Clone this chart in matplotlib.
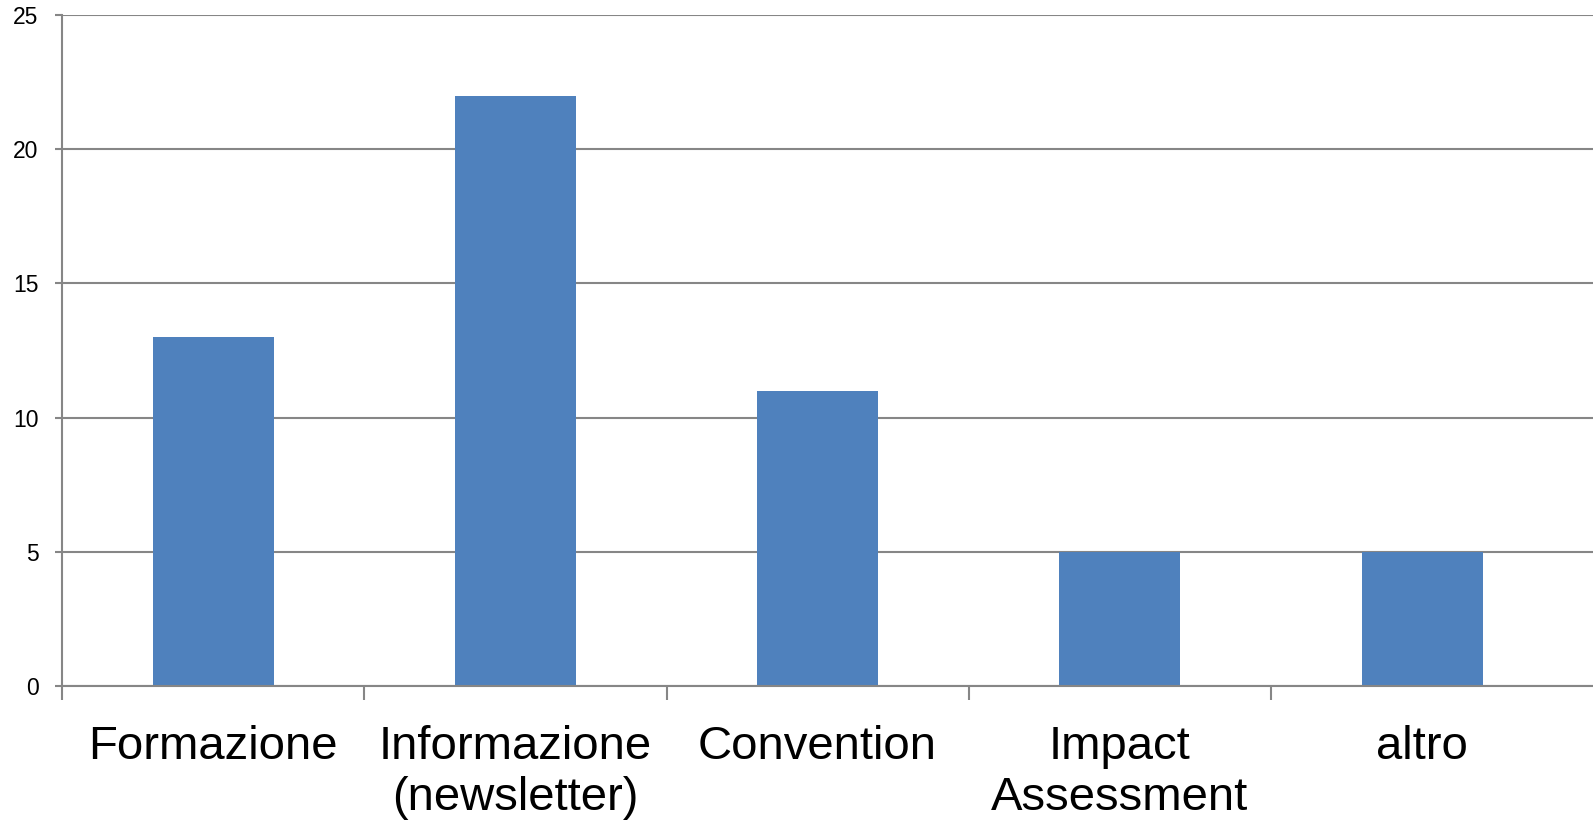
import matplotlib
matplotlib.use("Agg")
import matplotlib.pyplot as plt
import numpy as np

categories = ["Formazione", "Informazione\n(newsletter)", "Convention", "Impact\nAssessment", "altro"]
values = [13, 22, 11, 5, 5]
yticks = [0, 5, 10, 15, 20, 25]

W, H = 1593, 833
fig = plt.figure(figsize=(W / 100, H / 100), dpi=100)
ax = fig.add_axes([62 / W, (H - 686) / H, 1 - 62 / W, (686 - 15) / H])

grid_c = "#868686"
x = np.arange(len(categories))
ax.bar(x, values, width=0.4, color="#4F81BD", zorder=3)

cat_px = 302.25
ax.set_xlim(-0.5, len(categories) - 0.5 + (W - (62 + cat_px * len(categories))) / cat_px)
ax.set_ylim(0, 25)

ax.set_yticks(yticks)
ax.set_yticklabels([str(v) for v in yticks], fontsize=16.5, family="Liberation Sans")
ax.tick_params(axis="y", length=5, width=1.5, color=grid_c, pad=12)

ax.set_xticks(np.arange(len(categories)) - 0.5)
ax.set_xticklabels([])
ax.tick_params(axis="x", which="major", length=10, width=1.5, color=grid_c)
ax.set_xticks(x, minor=True)
ax.set_xticklabels(categories, minor=True, fontsize=34, family="Liberation Sans", linespacing=1.2)
ax.tick_params(axis="x", which="minor", length=0, pad=28)

ax.grid(axis="y", color=grid_c, linewidth=1.5, zorder=0)
ax.set_axisbelow(True)
for s in ["top", "right"]:
    ax.spines[s].set_visible(False)
for s in ["left", "bottom"]:
    ax.spines[s].set_color(grid_c)
    ax.spines[s].set_linewidth(1.5)
ax.spines["bottom"].set_zorder(4)

fig.savefig("out.png", dpi=100)
